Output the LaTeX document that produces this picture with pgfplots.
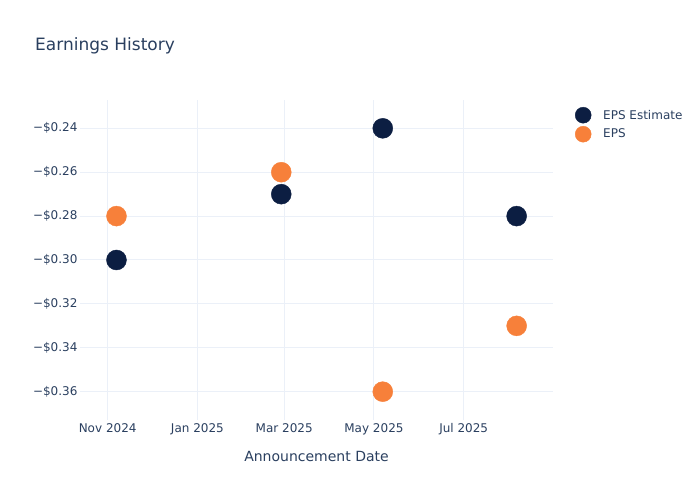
\documentclass[border=0pt]{standalone}
\usepackage{pgfplots}
\pgfplotsset{compat=1.18}
\usepackage{fontspec}
\setmainfont{DejaVu Sans}
\definecolor{navy}{HTML}{0C1E42}
\definecolor{eporange}{HTML}{F7803A}
\definecolor{txt}{HTML}{2A3F5F}
\definecolor{grd}{HTML}{EBF0F8}
\begin{document}
\begin{tikzpicture}[x=1pt,y=1pt]
\path[use as bounding box] (0,0) rectangle (700,500);
\node[anchor=west, text=txt, font=\fontsize{17}{20}\selectfont, inner sep=0pt] at (35,454) {Earnings History};
\node[text=txt, font=\fontsize{14}{17}\selectfont, inner sep=0pt] at (316.5,44) {Announcement Date};
\begin{axis}[
  at={(80pt,80pt)}, anchor=south west,
  scale only axis, width=473pt, height=320pt,
  xmin=-18.8, xmax=302.7, ymin=-0.3729, ymax=-0.2271,
  axis line style={draw=none},
  major tick style={draw=none},
  grid=major,
  major grid style={grd, line width=1pt},
  xtick={0,61,120,181,242},
  xticklabels={Nov 2024,Jan 2025,Mar 2025,May 2025,Jul 2025},
  ytick={-0.36,-0.34,-0.32,-0.30,-0.28,-0.26,-0.24},
  yticklabels={−\$0.36,−\$0.34,−\$0.32,−\$0.30,−\$0.28,−\$0.26,−\$0.24},
  ticklabel style={text=txt, font=\fontsize{12}{14}\selectfont},
  yticklabel style={xshift=1pt},
  xticklabel style={yshift=0pt},
  legend style={at={(1,1)}, anchor=north west, xshift=22pt, yshift=-7pt,
    draw=none, fill=none, font=\fontsize{12}{14}\selectfont, text=txt,
    inner sep=0pt, row sep=3pt, column sep=10pt},
  legend cell align=left,
  legend image code/.code={\draw[#1, mark size=8pt] plot coordinates {(8pt,0pt)};},
]
\addplot[only marks, mark=*, mark size=10pt, color=navy, draw=none, fill=navy]
  coordinates {(6,-0.30) (118,-0.27) (187,-0.24) (278,-0.28)};
\addlegendentry{EPS Estimate}
\addplot[only marks, mark=*, mark size=10pt, color=eporange, draw=none, fill=eporange]
  coordinates {(6,-0.28) (118,-0.26) (187,-0.36) (278,-0.33)};
\addlegendentry{EPS}
\end{axis}
\end{tikzpicture}
\end{document}
